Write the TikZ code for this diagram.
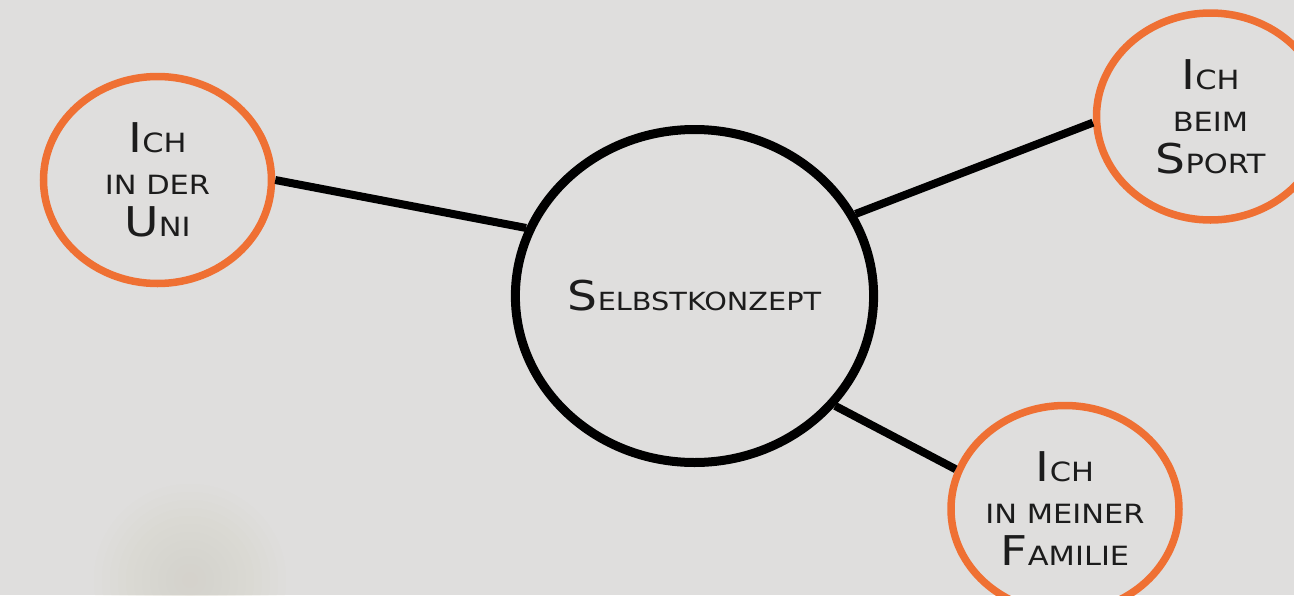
\documentclass[tikz,border=0pt]{standalone}
\usepackage{fontspec}
\setmainfont{DejaVu Sans}[FakeStretch=1.15]
\usetikzlibrary{shapes.geometric}
\definecolor{bg}{HTML}{DFDEDD}
\definecolor{blob}{HTML}{D5D0C3}
\definecolor{orng}{HTML}{EF7033}
\definecolor{txt}{HTML}{1C1C1C}
\newcommand\Lg[1]{{\fontsize{41}{42}\selectfont #1}}
\newcommand\Sm[1]{{\fontsize{26.5}{42}\selectfont #1}}
\newcommand\Smc[1]{{\fontsize{25}{42}\selectfont #1}}
\tikzset{
  hub/.style={ellipse, draw=black, line width=9pt, inner sep=0pt,
    minimum width=354pt, minimum height=333pt, text=txt},
  leaf/.style={ellipse, draw=orng, line width=7.5pt, inner sep=0pt,
    minimum width=228pt, minimum height=207pt, text=txt, align=center,
    font=\fontsize{26.5}{42}\selectfont},
  link/.style={draw=black, line width=8pt}
}
\begin{document}
\begin{tikzpicture}[x=1pt,y=-1pt]
\fill[bg] (0,0) rectangle (1294,595);
\useasboundingbox (0,0) rectangle (1294,595);
\begin{scope}
\clip (0,0) rectangle (1294,595);
\foreach \r in {8,16,...,96}
  \fill[blob, opacity=0.06] (190,580) circle (\r);
\end{scope}
\node[hub] (c) at (694.5,296) {\raisebox{-2pt}{\Lg{S}\Smc{ELBSTKONZEPT}}};
\node[leaf] (u) at (157.5,180) {\Lg{I}\Sm{CH}\\\Sm{IN DER}\\\Lg{U}\Sm{NI}};
\node[leaf] (s) at (1210.5,116.5) {\Lg{I}\Sm{CH}\\\Sm{BEIM}\\\Lg{S}\Sm{PORT}};
\node[leaf] (f) at (1065,509) {\Lg{I}\Sm{CH}\\\Sm{IN MEINER}\\\Lg{F}\Sm{AMILIE}};
\draw[link] (u.east) -- (c.158.6);
\draw[link] (c.27) -- (s.183);
\draw[link] (c.-38) -- (f.160);
\end{tikzpicture}
\end{document}
